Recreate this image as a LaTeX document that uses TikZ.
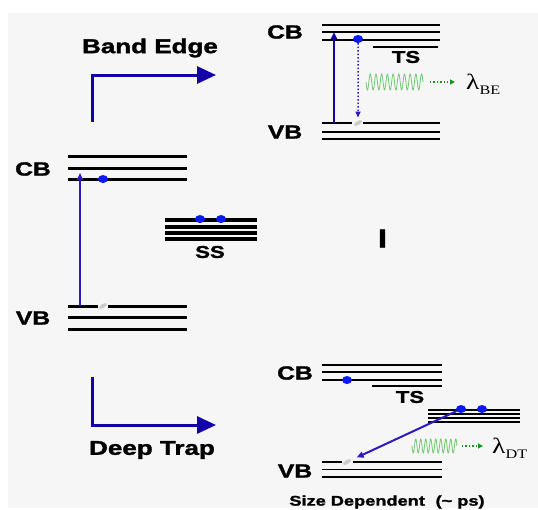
\documentclass[tikz,border=0pt]{standalone}
\usepackage{fontspec}
\newfontfamily\lblfont{Liberation Sans}[FakeStretch=1.3,BoldFeatures={FakeBold=1.6}]
\newfontfamily\grkfont{Liberation Serif}[FakeStretch=1.25]
\usetikzlibrary{arrows.meta,shapes.geometric}
\definecolor{panel}{RGB}{246,246,246}
\definecolor{routeblue}{RGB}{20,0,168}
\definecolor{transblue}{RGB}{45,25,195}
\definecolor{elec}{RGB}{10,25,245}
\definecolor{wavegreen}{RGB}{115,200,115}
\definecolor{emit}{RGB}{25,150,25}
\tikzset{
  lbl/.style={font=\lblfont\bfseries\fontsize{19}{22}\selectfont,inner sep=0pt},
  lam/.style={font=\grkfont\fontsize{22}{24}\selectfont,inner sep=0pt,anchor=west},
  lvl/.style={line width=2pt},
  dot/.style={ellipse,fill=elec,minimum width=10pt,minimum height=8pt,inner sep=0pt},
  hole/.style={ellipse,fill=gray!40,minimum width=9pt,minimum height=4pt,inner sep=0pt,rotate=30},
  bigarrow/.style={routeblue,line width=3pt,-{Triangle[length=19pt,width=17pt]}},
  pump/.style={transblue,line width=1.6pt,-{Triangle[length=7pt,width=6pt]}},
  relax/.style={transblue,line width=1.5pt,dotted,-{Triangle[length=6pt,width=5pt]}},
  glow/.style={wavegreen,line width=0.8pt},
  photon/.style={emit,line width=1.4pt,dotted,-{Triangle[length=5pt,width=5pt]}}
}
\begin{document}
\begin{tikzpicture}[x=1pt,y=-1pt]
\useasboundingbox (0,0) rectangle (538,509);
\fill[white] (0,0) rectangle (538,509);
\fill[panel] (8,13) rectangle (538,508);

\foreach \y in {156,168,179} \draw[lvl,line width=3pt] (68,\y) -- (187,\y);
\draw[lvl,line width=3pt] (68,306) -- (98,306) (108,306) -- (187,306);
\foreach \y in {317,329} \draw[lvl,line width=3pt] (68,\y) -- (187,\y);
\node[lbl] (cbL) at (33,169) {CB};
\node[lbl] (vbL) at (33,318) {VB};
\node[dot] (eL) at (103,179) {};
\node[hole] (hL) at (103,306) {};
\coordinate (vL) at (80,306);
\coordinate (cL) at (80,173);
\draw[pump] (vL) -- (cL);

\foreach \y in {220,227,233,239} \draw[lvl,line width=3.5pt] (165,\y) -- (257,\y);
\node[dot] (sL1) at (200,219) {};
\node[dot] (sL2) at (221,219) {};
\node[lbl,font=\lblfont\bfseries\fontsize{17}{20}\selectfont] (ss) at (210,252) {SS};
\node[lbl,font=\lblfont\bfseries\fontsize{26}{28}\selectfont] (gap) at (382.5,238.5) {I};

\coordinate (bs) at (92,122);
\coordinate (bt) at (216,75);
\draw[bigarrow] (bs) |- (bt);
\node[lbl,font=\lblfont\bfseries\fontsize{20}{24}\selectfont] (be) at (150,48) {Band Edge};
\coordinate (ds) at (92,377);
\coordinate (dt) at (216,425);
\draw[bigarrow] (ds) |- (dt);
\node[lbl,font=\lblfont\bfseries\fontsize{20}{24}\selectfont] (dtrap) at (152,450) {Deep Trap};

\foreach \y in {25,32,40} \draw[lvl] (322,\y) -- (440,\y);
\draw[lvl] (373,47) -- (438,47);
\draw[lvl] (322,123) -- (352,123) (363,123) -- (440,123);
\foreach \y in {131.5,139} \draw[lvl] (322,\y) -- (440,\y);
\node[lbl] (cbT) at (285,32) {CB};
\node[lbl] (vbT) at (285,132) {VB};
\node[lbl,font=\lblfont\bfseries\fontsize{17}{20}\selectfont] (tsT) at (406,57) {TS};
\node[dot] (eT) at (358,39) {};
\node[hole] (hT) at (358,123) {};
\coordinate (vT) at (334,123);
\coordinate (cT) at (334,32);
\draw[pump,routeblue,line width=2.5pt] (vT) -- (cT);
\draw[relax,shorten >=3pt] (eT) -- (hT);
\draw[glow] plot[domain=366:423,samples=200] (\x,{82+8*sin((\x-366)/5.7*360)});
\coordinate (pT1) at (430,82);
\coordinate (pT2) at (455,82);
\draw[photon] (pT1) -- (pT2);
\node[lam] (lamBE) at (466,84) {λ\raisebox{-0.5ex}{\fontsize{13}{13}\selectfont BE}};

\foreach \y in {365,372,380} \draw[lvl,line width=1.3pt] (322,\y) -- (442,\y);
\draw[lvl,line width=1.3pt] (372,386) -- (442,386);
\foreach \y in {409.5,414,418,422} \draw[lvl] (428,\y) -- (520,\y);
\draw[lvl,line width=1.3pt] (322,462) -- (342,462) (353,462) -- (442,462);
\foreach \y in {469.5,477} \draw[lvl,line width=1.3pt] (322,\y) -- (442,\y);
\node[lbl] (cbB) at (295,373) {CB};
\node[lbl] (vbB) at (295,471) {VB};
\node[lbl,font=\lblfont\bfseries\fontsize{17}{20}\selectfont] (tsB) at (410,397) {TS};
\node[dot] (eB) at (347,380) {};
\node[dot] (tB1) at (461,409) {};
\node[dot] (tB2) at (482,409) {};
\node[hole] (hB) at (347,462) {};
\draw[pump,line width=2pt,shorten >=6pt] (tB1) -- (hB);
\draw[glow] plot[domain=412:457,samples=200] (\x,{446+7*sin((\x-412)/5*360)});
\coordinate (pB1) at (462,446);
\coordinate (pB2) at (483,446);
\draw[photon] (pB1) -- (pB2);
\node[lam] (lamDT) at (492,448) {λ\raisebox{-0.5ex}{\fontsize{13}{13}\selectfont DT}};
\node[lbl,font=\lblfont\bfseries\fontsize{14}{16}\selectfont] (sd) at (387,502) {Size Dependent\hspace{0.4em} (\textasciitilde{} ps)};
\end{tikzpicture}
\end{document}
